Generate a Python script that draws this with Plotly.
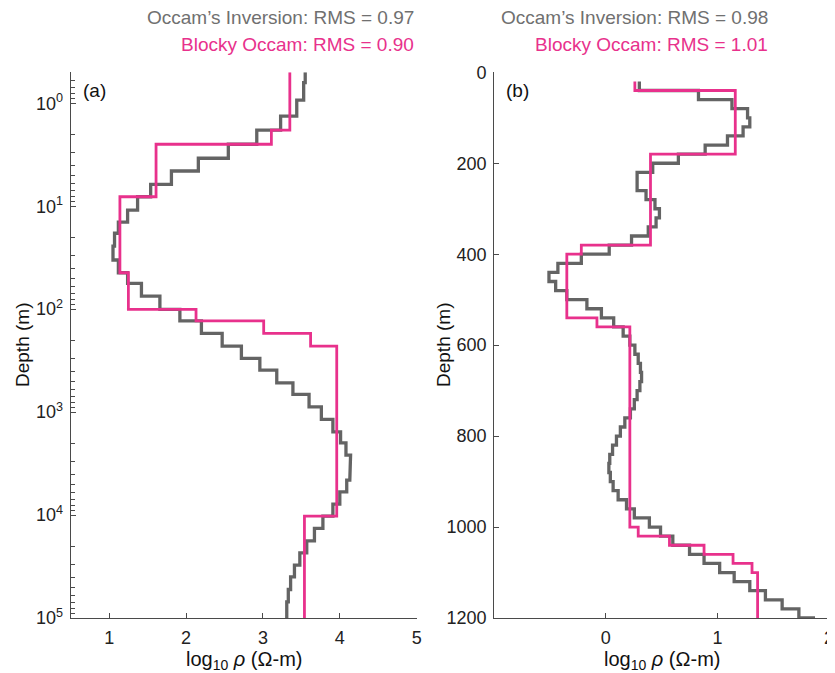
import plotly.graph_objects as go

# ---------------- data ----------------
# Panel (a): layer boundaries (m, log-depth mesh) and log10 resistivity per layer
occam_a_depth = [0.5, 0.63, 0.93, 1.33, 1.82, 2.5, 3.42, 4.55, 6.12, 8.09,
                 10.9, 14.3, 18.3, 24.4, 33.3, 44.3, 56.1, 74.6, 100.5, 129.7,
                 171.9, 228.4, 300.7, 390.7, 519, 673, 889, 1178, 1553, 1986,
                 2617, 3461, 4571, 5951, 7838, 10250, 13500, 17820, 23290, 30690,
                 39880, 52870, 69800, 100000]
occam_a_rho = [3.55, 3.53, 3.44, 3.23, 2.92, 2.55, 2.16, 1.81, 1.54, 1.37,
               1.24, 1.12, 1.07, 1.05, 1.12, 1.24, 1.42, 1.66, 1.92, 2.20,
               2.47, 2.72, 2.96, 3.18, 3.39, 3.60, 3.76, 3.91, 4.01, 4.08,
               4.14, 4.13, 4.09, 4.00, 3.91, 3.78, 3.67, 3.57, 3.48, 3.41,
               3.36, 3.33, 3.31]

blocky_a_depth = [0.5, 1.82, 2.5, 8.09, 44.3, 100.5, 129.7, 171.9, 228.4, 10250, 100000]
blocky_a_rho = [3.35, 3.11, 1.61, 1.14, 1.25, 2.13, 3.01, 3.62, 3.96, 3.54]

# Panel (b): 20 m layers from 20 m to 1200 m, plus half-space below 1200 m
occam_b_depth = [20, 40, 60, 80, 100, 120, 140, 160, 180, 200,
                 220, 240, 260, 280, 300, 320, 340, 360, 380, 400,
                 420, 440, 460, 480, 500, 520, 540, 560, 580, 600,
                 620, 640, 660, 680, 700, 720, 740, 760, 780, 800,
                 820, 840, 860, 880, 900, 920, 940, 960, 980, 1000,
                 1020, 1040, 1060, 1080, 1100, 1120, 1140, 1160, 1180, 1200, 1300]
occam_b_rho = [0.30, 0.83, 1.13, 1.27, 1.29, 1.23, 1.09, 0.89, 0.65, 0.42,
               0.28, 0.28, 0.36, 0.44, 0.48, 0.45, 0.38, 0.23, 0.03, -0.22,
               -0.43, -0.51, -0.45, -0.35, -0.17, -0.04, 0.07, 0.155, 0.215, 0.26,
               0.29, 0.31, 0.32, 0.305, 0.28, 0.255, 0.22, 0.17, 0.13, 0.095,
               0.06, 0.035, 0.027, 0.04, 0.065, 0.11, 0.185, 0.255, 0.39, 0.49,
               0.60, 0.75, 0.88, 1.02, 1.15, 1.29, 1.43, 1.58, 1.73, 1.86]

blocky_b_depth = [20, 40, 180, 380, 400, 540, 560, 1000, 1020, 1040, 1060, 1080, 1100, 1200]
blocky_b_rho = [0.26, 1.16, 0.40, -0.22, -0.35, -0.08, 0.215, 0.29, 0.57, 0.88, 1.14, 1.31, 1.36]

titles_a = ["Occam\u2019s Inversion: RMS = 0.97", "Blocky Occam: RMS = 0.90"]
titles_b = ["Occam\u2019s Inversion: RMS = 0.98", "Blocky Occam: RMS = 1.01"]

a_xticks = [1, 2, 3, 4, 5]
a_yticks = [1, 10, 100, 1000, 10000, 100000]
a_yticktext = ["10<sup>0</sup>", "10<sup>1</sup>", "10<sup>2</sup>", "10<sup>3</sup>",
               "10<sup>4</sup>", "10<sup>5</sup>"]
b_xticks = [0, 1, 2]
b_yticks = [0, 200, 400, 600, 800, 1000, 1200]

GRAY = "#646464"
PINK = "#E8318C"
AX = "#4a4a4a"
FONT = "Liberation Sans, Arial, Helvetica, sans-serif"
W, H = 835, 673
OX, OY = 8.0, 8.0  # page offset of the figure inside the browser window


def px(x):
    return (x - OX) / W


def py(y):
    return 1 - (y - OY) / H


def stairs(bounds, vals):
    xs, ys = [], []
    for i, v in enumerate(vals):
        xs += [v, v]
        ys += [bounds[i], bounds[i + 1]]
    return xs, ys


fig = go.Figure()
for (b, v, col, w, xa, ya) in [
    (occam_a_depth, occam_a_rho, GRAY, 3.3, "x", "y"),
    (blocky_a_depth, blocky_a_rho, PINK, 2.8, "x", "y"),
    (occam_b_depth, occam_b_rho, GRAY, 3.3, "x2", "y2"),
    (blocky_b_depth, blocky_b_rho, PINK, 2.8, "x2", "y2"),
]:
    xs, ys = stairs(b, v)
    fig.add_trace(go.Scatter(x=xs, y=ys, mode="lines", xaxis=xa, yaxis=ya,
                             line=dict(color=col, width=w), showlegend=False,
                             hoverinfo="skip"))

ydom = [py(618.0), py(72.3)]
common = dict(showgrid=False, zeroline=False, showline=True, linecolor=AX, linewidth=1.3,
              ticks="inside", ticklen=5, tickwidth=1, tickcolor=AX, automargin=False,
              tickfont=dict(family=FONT, size=18, color="#222222"), mirror=False)

minor_a = [k * 10 ** n for n in range(-1, 5) for k in range(2, 10) if k * 10 ** n >= 0.5]

fig.update_layout(
    width=W, height=H, margin=dict(l=0, r=0, t=0, b=0, pad=0, autoexpand=False),
    paper_bgcolor="white", plot_bgcolor="white",
    font=dict(family=FONT, color="#222222"),
    xaxis=dict(domain=[px(70.7), px(416.7)], range=[0.5, 5], tickvals=a_xticks,
               anchor="y", ticklabelstandoff=3, **common),
    yaxis=dict(domain=ydom, type="log", range=[5, -0.301], tickvals=a_yticks,
               ticktext=a_yticktext, anchor="x", ticklabelstandoff=3,
               minor=dict(tickvals=minor_a, ticks="inside", ticklen=4, tickcolor=AX),
               **common),
    xaxis2=dict(domain=[px(494.3), px(829.0)], range=[-1, 2], tickvals=b_xticks,
                anchor="y2", ticklabelstandoff=3, **common),
    yaxis2=dict(domain=ydom, range=[1200, 0], tickvals=b_yticks, anchor="x2",
                ticklabelstandoff=3, **common),
)

ann = []
for xr, tt in [(416.0, titles_a), (770.0, titles_b)]:
    ann.append(dict(x=px(xr), y=py(18.0), xref="paper", yref="paper", text=tt[0],
                    xanchor="right", yanchor="middle", showarrow=False,
                    font=dict(family=FONT, size=19, color="#707070")))
    ann.append(dict(x=px(xr), y=py(44.0), xref="paper", yref="paper", text=tt[1],
                    xanchor="right", yanchor="middle", showarrow=False,
                    font=dict(family=FONT, size=19, color=PINK)))
for xc, lab in [(81.0, "(a)"), (504.0, "(b)")]:
    ann.append(dict(x=px(xc), y=py(90.0), xref="paper", yref="paper", text=lab,
                    xanchor="left", yanchor="middle", showarrow=False,
                    font=dict(family=FONT, size=19, color="#111111")))
for xc in [22.0, 443.0]:
    ann.append(dict(x=px(xc), y=py(345.0), xref="paper", yref="paper", text="Depth (m)",
                    textangle=-90, xanchor="center", yanchor="middle", showarrow=False,
                    font=dict(family=FONT, size=19, color="#111111")))
for xc in [243.7, 661.6]:
    ann.append(dict(x=px(xc), y=py(646.0), xref="paper", yref="paper",
                    text="log<sub>10</sub> <i>\u03c1</i> (\u03a9-m)",
                    xanchor="center", yanchor="top", showarrow=False,
                    font=dict(family=FONT, size=20, color="#111111")))
fig.update_layout(annotations=ann)

fig.write_html("out.html")
